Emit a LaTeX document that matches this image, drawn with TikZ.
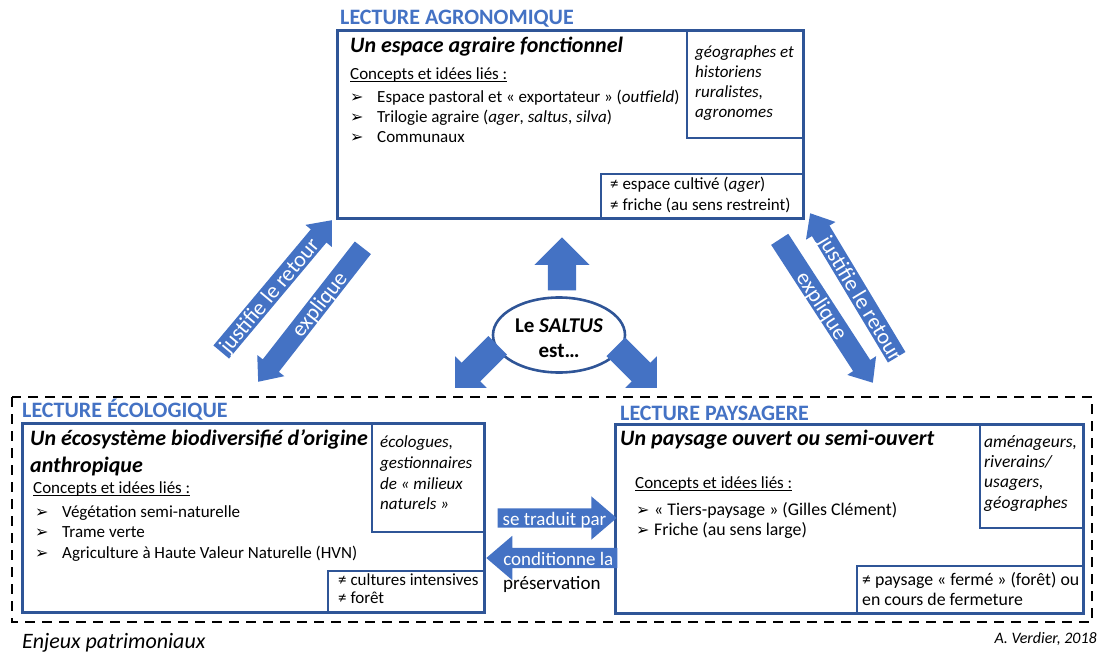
\documentclass[tikz,border=0pt]{standalone}
\usepackage{fontspec}
\setmainfont{Carlito}
\newfontfamily\dejavu{DejaVu Sans}
\usetikzlibrary{shapes.geometric,shapes.arrows,calc}

\definecolor{cadreblue}{HTML}{2F5597}
\definecolor{flecheblue}{HTML}{4472C4}

\newcommand{\puce}{{\dejavu\fontsize{16}{16}\selectfont ➢}}
\newcommand{\souligne}[1]{{\setbox0\hbox{#1}\rlap{\rule[-2.4pt]{\wd0}{0.9pt}}\box0}}

\tikzset{
  cadre/.style={draw=cadreblue, line width=3pt, inner sep=0pt, outer sep=0pt},
  souscadre/.style={draw=cadreblue, line width=1.6pt, inner sep=0pt, outer sep=0pt},
  lecture/.style={anchor=base west, inner sep=0pt, text=flecheblue, font=\fontsize{22}{26}\selectfont\bfseries},
  intitule/.style={anchor=base west, inner sep=0pt, font=\fontsize{22}{26}\selectfont\bfseries\itshape},
  texte/.style={anchor=base west, inner sep=0pt, font=\fontsize{17}{20}\selectfont},
  acteurs/.style={anchor=base west, inner sep=0pt, font=\fontsize{17}{20}\selectfont\itshape},
  bloc/.style={single arrow, fill=flecheblue, inner sep=0pt, single arrow tip angle=90, anchor=tip},
  fleche/.style={single arrow, fill=flecheblue, inner sep=0pt, single arrow tip angle=80, anchor=tip},
  legende/.style={text=white, inner sep=0pt, text height=15pt, text depth=0pt, font=\fontsize{22}{22}\selectfont},
  legendeh/.style={text=white, inner sep=0pt, text height=14pt, text depth=0pt, font=\fontsize{19}{19}\selectfont},
}

\begin{document}
\begin{tikzpicture}[x=1pt,y=-1pt]
		\useasboundingbox (0,0) rectangle (1100,655);

		% Enjeux patrimoniaux
		\draw[line width=2.5pt, dash pattern=on 10pt off 7pt] (12,397) rectangle (1092,622);
		\node[anchor=base west, inner sep=0pt, font=\fontsize{22}{26}\selectfont\itshape] (enjeux) at (22,648) {Enjeux patrimoniaux};
		\node[anchor=base east, inner sep=0pt, font=\fontsize{16}{19}\selectfont\itshape] (auteur) at (1097,643) {A. Verdier, 2018};

		% Lecture agronomique
		\node[cadre, anchor=north west, minimum width=466pt, minimum height=188pt] (agro) at (337,31) {};
		\node[souscadre, anchor=north east, minimum width=116pt, minimum height=107pt] (agro-acteurs) at (agro.north east) {};
		\node[souscadre, anchor=south east, minimum width=202pt, minimum height=45pt] (agro-contre) at (agro.south east) {};
		\node[lecture] (agro-titre) at (340,25) {LECTURE AGRONOMIQUE};
		\node[intitule] (agro-intitule) at (350,53) {Un espace agraire fonctionnel};
		\node[texte] (agro-concepts) at (350,80) {\souligne{Concepts et idées liés :}};
		\foreach \txt [count=\i] in {{Espace pastoral et « exportateur » (\textit{outfield})},
				{Trilogie agraire (\textit{ager}, \textit{saltus}, \textit{silva})}, Communaux}{
			\node[texte] (agro-puce-\i) at (350,{83+20*\i}) {\puce};
			\node[texte] (agro-idee-\i) at (377,{83+20*\i}) {\txt};
		}
		\foreach \txt [count=\i] in {géographes et, historiens, ruralistes{,}, agronomes}
			\node[acteurs] (agro-acteur-\i) at (695,{38+20*\i}) {\txt};
		\node[texte] (agro-contre-1) at (610,190) {≠ espace cultivé (\textit{ager})};
		\node[texte] (agro-contre-2) at (610,211) {≠ friche (au sens restreint)};

		% Lecture ecologique
		\node[cadre, anchor=north west, minimum width=462pt, minimum height=189pt] (eco) at (22,423) {};
		\node[souscadre, anchor=north east, minimum width=112pt, minimum height=109pt] (eco-acteurs) at (eco.north east) {};
		\node[souscadre, anchor=south east, minimum width=156pt, minimum height=41pt] (eco-contre) at (eco.south east) {};
		\node[lecture] (eco-titre) at (22,417) {LECTURE ÉCOLOGIQUE};
		\node[intitule] (eco-intitule-1) at (30,445) {Un écosystème biodiversifié d’origine};
		\node[intitule] (eco-intitule-2) at (30,472) {anthropique};
		\node[texte] (eco-concepts) at (33,493) {\souligne{Concepts et idées liés :}};
		\foreach \txt/\y [count=\i] in {Végétation semi-naturelle/517, Trame verte/537,
				Agriculture à Haute Valeur Naturelle (HVN)/558}{
			\node[texte] (eco-puce-\i) at (35,\y) {\puce};
			\node[texte] (eco-idee-\i) at (62,\y) {\txt};
		}
		\foreach \txt [count=\i] in {écologues{,}, gestionnaires, de « milieux, naturels »}
			\node[acteurs] (eco-acteur-\i) at (380,{427+20.7*\i}) {\txt};
		\node[texte] (eco-contre-1) at (338,585) {≠ cultures intensives};
		\node[texte] (eco-contre-2) at (338,603) {≠ forêt};

		% Lecture paysagere
		\node[cadre, anchor=north west, minimum width=468pt, minimum height=189pt] (pays) at (615,424) {};
		\node[souscadre, anchor=north east, minimum width=103pt, minimum height=104pt] (pays-acteurs) at (pays.north east) {};
		\node[souscadre, anchor=south east, minimum width=226pt, minimum height=47pt] (pays-contre) at (pays.south east) {};
		\node[lecture] (pays-titre) at (620,420) {LECTURE PAYSAGERE};
		\node[intitule] (pays-intitule) at (620,445) {Un paysage ouvert ou semi-ouvert};
		\node[texte] (pays-concepts) at (635,488) {\souligne{Concepts et idées liés :}};
		\foreach \txt [count=\i] in {« Tiers-paysage » (Gilles Clément), Friche (au sens large)}{
			\node[texte] (pays-puce-\i) at (636,{495+20*\i}) {\puce};
			\node[texte, font=\fontsize{17.8}{20}\selectfont] (pays-idee-\i) at (654,{495+20*\i}) {\txt};
		}
		\foreach \txt [count=\i] in {aménageurs{,}, riverains/, usagers{,}, géographes}
			\node[acteurs, font=\fontsize{17.5}{20}\selectfont\itshape] (pays-acteur-\i) at (984,{427+20.3*\i}) {\txt};
		\node[texte, font=\fontsize{17.8}{20}\selectfont] (pays-contre-1) at (862,585) {≠ paysage « fermé » (forêt) ou};
		\node[texte, font=\fontsize{17.8}{20}\selectfont] (pays-contre-2) at (862,605) {en cours de fermeture};

		% Le saltus
		\node[ellipse, draw=cadreblue, line width=2.6pt, inner sep=0pt, minimum width=132pt, minimum height=75pt] (saltus) at (559,335) {};
		\node[anchor=base, inner sep=0pt, font=\fontsize{21}{25}\selectfont\bfseries] (saltus-1) at (559,332) {Le \textit{SALTUS}};
		\node[anchor=base, inner sep=0pt, font=\fontsize{21}{25}\selectfont\bfseries] (saltus-2) at (559,357) {est…};
		\node[bloc, rotate=90, minimum height=53pt, inner ysep=14pt, single arrow head extend=13.5pt] (vers-agro) at (562,237) {};
		\node[bloc, rotate=225, minimum height=60pt, inner ysep=13pt, single arrow head extend=9pt] (vers-eco) at (455,388) {};
		\node[bloc, rotate=-45, minimum height=58pt, inner ysep=13pt, single arrow head extend=9pt] (vers-pays) at (657,388) {};

		% Agronomique <-> ecologique
		\node[fleche, rotate=50, minimum height=172pt, inner ysep=10pt, single arrow head extend=7pt] (justifie-eco) at (332,220) {};
		\node[legende, rotate=50] (justifie-eco-texte) at ($(justifie-eco.tail)!0.43!(justifie-eco.tip)$) {justifie le retour};
		\node[fleche, rotate=232, minimum height=170pt, inner ysep=10pt, single arrow head extend=7pt] (explique-eco) at (258,382) {};
		\node[legende, rotate=52] (explique-eco-texte) at ($(explique-eco.tail)!0.42!(explique-eco.tip)$) {explique};

		% Agronomique <-> paysagere
		\node[fleche, rotate=121, minimum height=168pt, inner ysep=10pt, single arrow head extend=7pt] (justifie-pays) at (810,213) {};
		\node[legende, rotate=-59] (justifie-pays-texte) at ($(justifie-pays.tail)!0.41!(justifie-pays.tip)$) {justifie le retour};
		\node[fleche, rotate=-57, minimum height=171pt, inner ysep=10pt, single arrow head extend=7pt] (explique-pays) at (873,383) {};
		\node[legende, rotate=-57] (explique-pays-texte) at ($(explique-pays.tail)!0.46!(explique-pays.tip)$) {explique};

		% Ecologique <-> paysagere
		\node[fleche, minimum height=119pt, inner ysep=9.5pt, single arrow head extend=12pt, single arrow tip angle=81] (traduit) at (617,518) {};
		\node[legendeh, anchor=west] (traduit-texte) at ([xshift=5pt]traduit.tail) {se traduit par};
		\node[fleche, rotate=180, minimum height=131pt, inner ysep=10pt, single arrow head extend=12pt, single arrow tip angle=81] (conditionne) at (486,558) {};
		\node[legendeh, anchor=east] (conditionne-texte) at ([xshift=-4pt]conditionne.tail) {conditionne la};
		\node[anchor=base west, inner sep=0pt, font=\fontsize{19}{22}\selectfont] (preservation) at (503,589) {préservation};
	\end{tikzpicture}
\end{document}
